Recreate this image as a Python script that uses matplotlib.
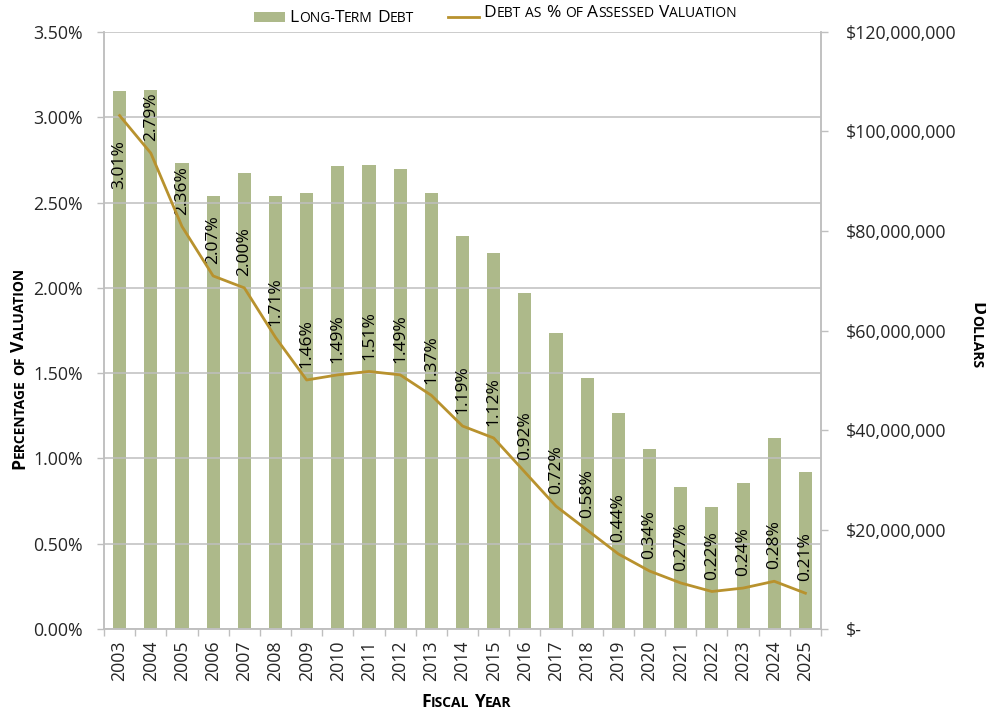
import numpy as np
import matplotlib
matplotlib.use('Agg')
from matplotlib import pyplot as plt
from matplotlib.ticker import FuncFormatter, MultipleLocator, FixedLocator
from matplotlib.patches import Patch
from matplotlib.lines import Line2D

# Long-term debt and debt as a share of assessed valuation, FY2003-FY2025
years = ['2003', '2004', '2005', '2006', '2007', '2008', '2009', '2010', '2011', '2012',
         '2013', '2014', '2015', '2016', '2017', '2018', '2019', '2020', '2021', '2022',
         '2023', '2024', '2025']
debt = [108.1, 108.3, 93.7, 87.0, 91.7, 87.0, 87.6, 93.1, 93.3, 92.5,
        87.6, 79.0, 75.6, 67.5, 59.5, 50.5, 43.4, 36.2, 28.5, 24.5,
        29.3, 38.4, 31.6]  # millions of dollars
pct = [3.01, 2.79, 2.36, 2.07, 2.00, 1.71, 1.46, 1.49, 1.51, 1.49,
       1.37, 1.19, 1.12, 0.92, 0.72, 0.58, 0.44, 0.34, 0.27, 0.22,
       0.24, 0.28, 0.21]

bar_color = '#adb98a'
line_color = '#b8922e'
grid_color = '#bfbfbf'
text_color = '#262626'
font = 'Open Sans'

plt.rcParams['font.family'] = [font, 'DejaVu Sans']

fig = plt.figure(figsize=(9.87, 7.11), dpi=100)
ax = fig.add_axes([0.1054, 0.1153, 0.7264, 0.8397])
ax2 = ax.twinx()

x = np.arange(len(years))

# bars on the dollar axis, line on the percentage axis
ax2.bar(x, np.array(debt) * 1e6, width=0.42, color=bar_color, zorder=2)
ax.plot(x, pct, color=line_color, lw=2.0, zorder=5)
ax.set_zorder(ax2.get_zorder() + 1)
ax.patch.set_visible(False)

for xi, v in zip(x, pct):
    if xi == 0:
        ax.annotate(f'{v:.2f}%', (xi, v), xytext=(0, -18), textcoords='offset points',
                    rotation=90, ha='center', va='top', fontsize=12.5, color='black')
    else:
        ax.annotate(f'{v:.2f}%', (xi, v), xytext=(0, 8.5), textcoords='offset points',
                    rotation=90, ha='center', va='bottom', fontsize=12.5, color='black')

ax.set_xlim(-0.5, len(years) - 0.5)
ax.set_ylim(0, 3.5)
ax2.set_ylim(0, 120e6)

ax.yaxis.set_major_locator(MultipleLocator(0.5))
ax.yaxis.set_major_formatter(FuncFormatter(lambda v, p: f'{v:.2f}%'))
ax2.yaxis.set_major_locator(MultipleLocator(20e6))
ax2.yaxis.set_major_formatter(FuncFormatter(lambda v, p: '$-' if v == 0 else f'${v:,.0f}'))

ax.set_xticks(x)
ax.set_xticklabels(years, rotation=90)
ax.xaxis.set_minor_locator(FixedLocator(np.arange(-0.5, len(years), 1)))
ax.tick_params(axis='x', which='major', length=0, pad=8, labelsize=12.8, labelcolor=text_color)
ax.tick_params(axis='x', which='minor', length=5, width=1, color=grid_color, direction='out')
ax.tick_params(axis='y', length=5, width=1, color=grid_color, pad=10, labelsize=12.8,
               labelcolor=text_color)
ax2.tick_params(axis='y', length=5, width=1, color=grid_color, pad=13, labelsize=12.8,
                labelcolor=text_color)

ax.grid(axis='y', color=grid_color, lw=1.1)
for a in (ax, ax2):
    a.spines['top'].set_visible(False)
    for s in ('left', 'right', 'bottom'):
        a.spines[s].set_color(grid_color)
        a.spines[s].set_linewidth(1.1)

handles = [Patch(facecolor=bar_color, edgecolor='none'),
           Line2D([0], [0], color=line_color, lw=2.0)]
leg = ax.legend(handles, ['', ''], ncol=2, loc='lower center', bbox_to_anchor=(0.366, 0.9933),
                frameon=False, handlelength=2.0, handleheight=0.6, handletextpad=0.0,
                columnspacing=10.7, fontsize=11, borderaxespad=0.25)

fig.canvas.draw()
renderer = fig.canvas.get_renderer()


def small_caps(px, py, text, big, small, rot=0, align='center', weight='normal'):
    # capitals stay full size, lower-case letters become reduced capitals
    runs = []
    for ch in text:
        size = small if ch.islower() or ch == '-' else big
        if ch == ' ':
            size = None
        if runs and runs[-1][1] == size:
            runs[-1][0] += ch
        else:
            runs.append([ch, size])
    made = []
    pos = 0.0
    for s, size in runs:
        if size is None:
            pos += small * 0.32 * fig.dpi / 72
            continue
        t = fig.text(0, 0, s.upper(), fontsize=size, rotation=rot, rotation_mode='anchor',
                     ha='left', va='baseline', color='black', fontweight=weight,
                     transform=None)
        bb = t.get_window_extent(renderer)
        made.append((t, pos))
        pos += bb.width if rot == 0 else bb.height
    start = pos / 2 if align == 'center' else 0
    for t, off in made:
        d = off - start
        if rot == 0:
            t.set_position((px + d, py))
        elif rot == 90:
            t.set_position((px, py + d))
        else:
            t.set_position((px, py - d))


H = fig.bbox.height
# legend text beside its handles
for h, label in zip(leg.legend_handles, ['Long-Term Debt', 'Debt as % of Assessed Valuation']):
    bb = h.get_window_extent(renderer)
    small_caps(bb.x1 + 5, bb.y0 - 0.5, label, 12.5, 10, align='left')

small_caps(466, H - 707, 'Fiscal Year', 12.6, 10, weight='bold')
small_caps(24, H - 369, 'Percentage of Valuation', 12.6, 10, rot=90, weight='bold')
small_caps(972, H - 335, 'Dollars', 12.6, 10, rot=270, weight='bold')

fig.savefig('out.png', dpi=100)
